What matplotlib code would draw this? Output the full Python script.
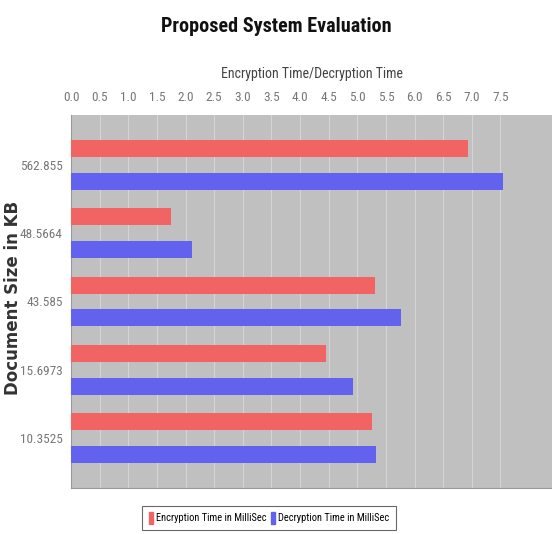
import matplotlib
matplotlib.use("Agg")
import matplotlib.pyplot as plt
import numpy as np
from matplotlib import font_manager
from matplotlib.patches import Patch

categories = ["562.855", "48.5664", "43.585", "15.6973", "10.3525"]
encryption = [6.94, 1.75, 5.31, 4.45, 5.25]
decryption = [7.55, 2.12, 5.77, 4.93, 5.33]
xticks = [0.0, 0.5, 1.0, 1.5, 2.0, 2.5, 3.0, 3.5, 4.0, 4.5, 5.0, 5.5, 6.0, 6.5, 7.0, 7.5]

names = {f.name for f in font_manager.fontManager.ttflist}
narrow_candidates = ["Liberation Sans Narrow", "Roboto Condensed", "Open Sans Condensed", "DejaVu Sans"]
narrow = next(n for n in narrow_candidates if n in names)

def nfont(size, weight="normal"):
    return font_manager.FontProperties(family=narrow, size=size, weight=weight, stretch="condensed")

fig = plt.figure(figsize=(5.52, 5.34), dpi=100)
ax = fig.add_axes([71/552, 1 - 488/534, (552 - 71)/552, (488 - 115)/534])
ax.set_facecolor("#c0c0c0")

y = np.arange(len(categories))
h = 0.25
ax.barh(y - 0.24, encryption, height=h, color="#f26464", zorder=3)
ax.barh(y + 0.24, decryption, height=h, color="#6262ee", zorder=3)
ax.set_ylim(len(categories) - 0.5 + 0.23, -0.5 - 0.23)
ax.set_xlim(0, 8.4)

ax.xaxis.tick_top()
ax.xaxis.set_label_position("top")
ax.set_xticks(xticks)
ax.set_xticklabels([f"{v:.1f}" for v in xticks], fontproperties=nfont(9.5), color="#777777")
ax.set_yticks(y)
ax.set_yticklabels(categories, fontproperties=nfont(9.5), color="#777777")
ax.tick_params(axis="x", length=0, pad=8)
ax.tick_params(axis="y", length=0, pad=6)
ax.grid(axis="x", color="#d4d4d4", linewidth=0.8, zorder=0)
for s in ["right", "top"]:
    ax.spines[s].set_visible(False)
ax.spines["left"].set_color("#999999")
ax.spines["bottom"].set_color("#999999")

ax.set_xlabel("Encryption Time/Decryption Time", fontproperties=nfont(10), color="#444444", labelpad=9)
ax.set_ylabel("Document Size in KB", fontsize=12, fontweight="bold", color="#333333")
ax.yaxis.set_label_coords((22 - 71) / 481, (488 - 298) / 373)

fig.text(0.5, 1 - 27/534, "Proposed System Evaluation", ha="center", va="center",
         fontproperties=nfont(14.5, "bold"), color="#111111")

handles = [Patch(color="#f26464", label="Encryption Time in MilliSec"),
           Patch(color="#6262ee", label="Decryption Time in MilliSec")]
leg = fig.legend(handles=handles, loc="center", bbox_to_anchor=(269/552, 1 - 518/534), ncol=2,
                 prop=nfont(7.5), frameon=True, fancybox=False,
                 handlelength=0.4, handleheight=1.3, handletextpad=0.3, columnspacing=0.4,
                 borderpad=0.6, edgecolor="#444444")
leg.get_frame().set_linewidth(0.8)

fig.savefig("out.png", dpi=100)
